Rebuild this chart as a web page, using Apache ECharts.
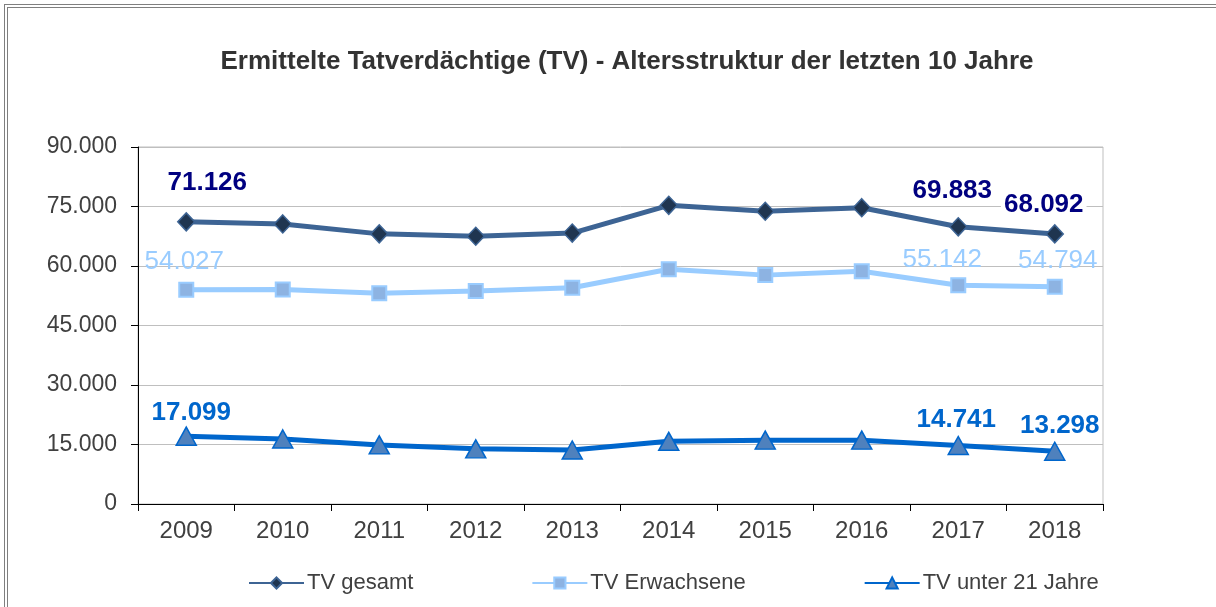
<!DOCTYPE html>
<html>
<head>
<meta charset="utf-8">
<script src="https://cdn.jsdelivr.net/npm/echarts@6/dist/echarts.min.js"></script>
<style>
  html, body { margin: 0; padding: 0; background: #fff; overflow: hidden; width: 1216px; height: 607px; }
  #frame {
    position: absolute; left: 4px; top: 4px; right: -40px; bottom: -40px;
    border-left: 4px double #7F7F7F; border-top: 4px double #7F7F7F;
  }
  #chart { position: absolute; left: 0; top: 0; width: 1216px; height: 607px; }
</style>
</head>
<body>
<div id="frame"></div>
<div id="chart"></div>
<script>
const years = ['2009', '2010', '2011', '2012', '2013', '2014', '2015', '2016', '2017', '2018'];
const tvGesamt = [71126, 70600, 68100, 67500, 68300, 75300, 73800, 74700, 69883, 68092];
const tvErwachsene = [54027, 54100, 53100, 53700, 54500, 59200, 57700, 58700, 55142, 54794];
const tvUnter21 = [17099, 16400, 14900, 13900, 13600, 15800, 16100, 16100, 14741, 13298];
// Jahre mit Datenbeschriftung
const labelledYears = ['2009', '2017', '2018'];

const font = 'Arial, "Liberation Sans", sans-serif';

function fmt(v) {
  return String(v).replace(/\B(?=(\d{3})+(?!\d))/g, '.');
}

// label placement per labelled point: [distance, x offset]
function withLabels(values, place, labelStyle) {
  return values.map((v, i) => {
    const k = labelledYears.indexOf(years[i]);
    if (k < 0) return v;
    return {
      value: v,
      label: Object.assign({
        show: true,
        position: 'top',
        distance: place[k][0],
        offset: [place[k][1], 0],
        formatter: (p) => fmt(p.value),
      }, labelStyle),
    };
  });
}

const chart = echarts.init(document.getElementById('chart'));

const option = {
  backgroundColor: 'transparent',
  animation: false,
  title: {
    text: 'Ermittelte Tatverdächtige (TV) - Altersstruktur der letzten 10 Jahre',
    left: 622,
    textAlign: 'center',
    top: 44,
    textStyle: { fontFamily: font, fontSize: 26, fontWeight: 'bold', color: '#333333' },
  },
  grid: {
    left: 138, right: 113, top: 147, bottom: 103,
    show: true, borderColor: '#BFBFBF', borderWidth: 1,
  },
  legend: {
    left: 243,
    top: 567,
    itemWidth: 55,
    itemHeight: 14,
    itemGap: 118,
    textStyle: { fontFamily: font, fontSize: 22, color: '#404040', padding: [0, 0, 0, -2] },
    data: ['TV gesamt', 'TV Erwachsene', 'TV unter 21 Jahre'],
  },
  xAxis: {
    type: 'category',
    data: years,
    boundaryGap: true,
    axisLine: { lineStyle: { color: '#000', width: 1 } },
    axisTick: { show: true, length: 7, lineStyle: { color: '#000' } },
    axisLabel: { fontFamily: font, fontSize: 24, color: '#404040', margin: 15 },
  },
  yAxis: {
    type: 'value',
    min: 0,
    max: 90000,
    interval: 15000,
    axisLine: { show: true, lineStyle: { color: '#000', width: 1 } },
    axisTick: { show: true, length: 7, lineStyle: { color: '#000' } },
    splitLine: { lineStyle: { color: '#BFBFBF', width: 1 } },
    axisLabel: {
      fontFamily: font, fontSize: 23, color: '#404040', margin: 21,
      formatter: (v) => fmt(v),
    },
  },
  series: [
    {
      name: 'TV gesamt',
      type: 'line',
      z: 3,
      symbol: 'diamond',
      symbolSize: [17, 18],
      lineStyle: { color: '#3D6494', width: 5 },
      itemStyle: { color: '#1F3550', borderColor: '#3D6494', borderWidth: 1.5 },
      data: withLabels(tvGesamt, [[17, 21], [14, -6], [7, -11]], {
        fontFamily: font, fontSize: 26, fontWeight: 'bold', color: '#000080',
        lineHeight: 24, backgroundColor: '#fff', padding: [0, 3],
      }),
    },
    {
      name: 'TV Erwachsene',
      type: 'line',
      z: 2,
      symbol: 'rect',
      symbolSize: 14,
      lineStyle: { color: '#99CCFF', width: 5 },
      itemStyle: { color: '#8DB3E2', borderColor: '#99CCFF', borderWidth: 2 },
      data: withLabels(tvErwachsene, [[8, -2], [5, -16], [6, 3]], {
        fontFamily: font, fontSize: 26, color: '#99CCFF', lineHeight: 24,
      }),
    },
    {
      name: 'TV unter 21 Jahre',
      type: 'line',
      z: 2,
      symbol: 'triangle',
      symbolSize: [20, 18],
      lineStyle: { color: '#0066CC', width: 5 },
      itemStyle: { color: '#4F81BD', borderColor: '#0066CC', borderWidth: 1.5 },
      data: withLabels(tvUnter21, [[2, 5], [4, -2], [4, 5]], {
        fontFamily: font, fontSize: 26, fontWeight: 'bold', color: '#0066CC', lineHeight: 24,
      }),
    },
  ],
};

chart.setOption(option);
</script>
</body>
</html>
